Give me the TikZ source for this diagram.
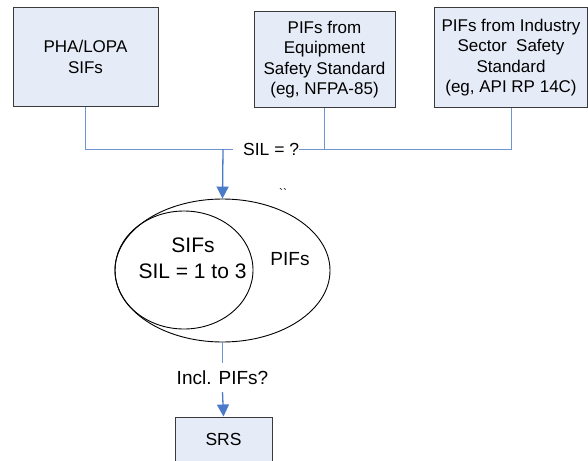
\documentclass[tikz,border=0pt]{standalone}
\usepackage{fontspec}
\setmainfont{Liberation Sans}
\usetikzlibrary{shapes.geometric,arrows.meta}
\definecolor{boxfill}{HTML}{E6ECF7}
\definecolor{boxline}{HTML}{3A3A3A}
\definecolor{conn}{HTML}{6F94CF}
\definecolor{arr}{HTML}{4A7BC8}
\tikzset{
  srcbox/.style={draw=boxline, fill=boxfill, line width=1pt, align=center, inner sep=0pt,
    font=\fontsize{17}{20.5}\selectfont},
  conline/.style={draw=conn, line width=0.9pt},
  arrline/.style={draw=arr, line width=1.3pt, -{Triangle[width=12pt,length=12pt]}},
  setshape/.style={draw=black, line width=0.9pt, ellipse, inner sep=0pt},
  lbl/.style={inner sep=0pt, align=center}
}
\begin{document}
\begin{tikzpicture}[x=1pt,y=-1pt]
\useasboundingbox (0,0) rectangle (588,460);
% source boxes
\node[srcbox, minimum width=145pt, minimum height=98pt] (box1) at (85.5,57) {PHA/LOPA\\SIFs};
\node[srcbox, minimum width=141pt, minimum height=95pt] (box2) at (324.5,59.5) {PIFs from\\Equipment\\Safety Standard\\(eg, NFPA-85)};
\node[srcbox, minimum width=153pt, minimum height=99pt] (box3) at (511,57.5) {PIFs from Industry\\Sector\ \ Safety\\Standard\\(eg, API RP 14C)};
% label on the merge line
\node[lbl, font=\fontsize{17.5}{20}\selectfont, anchor=west] (sil) at (243,149) {SIL = ?};
\coordinate (gapl) at (233,149);
\coordinate (j) at (223,149);
% connectors from boxes
\draw[conline] (box1.south) |- (gapl);
\draw[conline] (sil.east) -| (box3.south);
\draw[conline] (box2.south) -- (box2.south |- sil.east);
% sets
\node[setshape, minimum width=215pt, minimum height=143pt] (outer) at (222.5,270.5) {};
\node[setshape, minimum width=138pt, minimum height=118pt] (inner) at (184,270) {};
\node[lbl, font=\fontsize{21}{25}\selectfont] (sifs) at (193,245) {SIFs};
\node[lbl, font=\fontsize{21}{25}\selectfont] (silr) at (192.5,271) {SIL = 1 to 3};
\node[lbl, font=\fontsize{19}{22}\selectfont] (pifs) at (290,259) {PIFs};
\node[lbl, font=\fontsize{12}{14}\selectfont] (tick) at (283,193) {\textasciigrave\textasciigrave};
\draw[arrline] (j) -- (outer.north);
% bottom
\node[lbl, font=\fontsize{19}{22}\selectfont, minimum height=29pt] (incl) at (222.5,377.5) {Incl. PIFs?};
\node[srcbox, minimum width=97pt, minimum height=44pt, font=\fontsize{17.5}{20}\selectfont] (srs) at (223.5,439) {SRS};
\draw[conline] (outer.south) -- (incl.north);
\draw[arrline] (incl.south) -- (srs.north);
\end{tikzpicture}
\end{document}
